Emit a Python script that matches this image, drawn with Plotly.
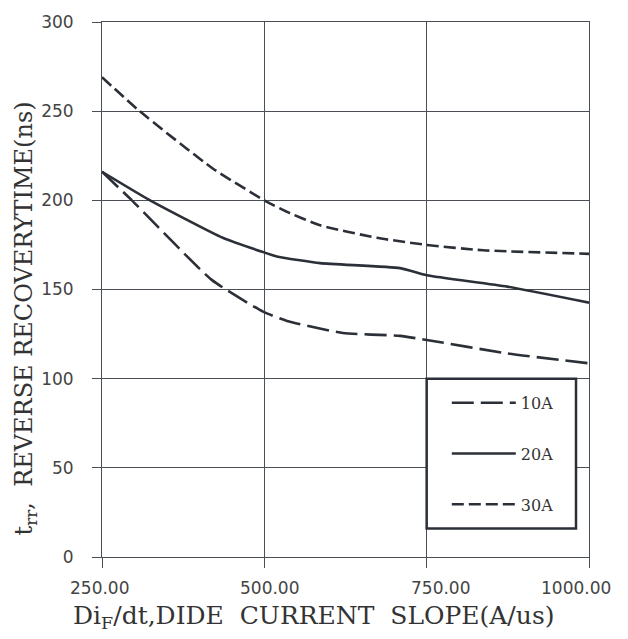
import plotly.graph_objects as go

# Data
x_10a = [250, 296, 419, 498, 535, 621, 709, 750, 874, 1000]
y_10a = [216, 200, 155.4, 137.6, 132.4, 125.6, 124, 121.7, 114.2, 108.6]
x_20a = [250, 324, 436, 498, 521, 586, 709, 750, 874, 1000]
y_20a = [216, 200, 179, 171, 168.4, 164.8, 162, 158, 151.6, 142.6]
x_30a = [250, 308, 420, 500, 535, 586, 673, 750, 837, 1000]
y_30a = [269, 250, 218, 200, 193.5, 186, 179, 175, 172, 170]
series_names = ["10A", "20A", "30A"]
x_ticks = [250, 500, 750, 1000]
x_tick_labels = ["250.00", "500.00", "750.00", "1000.00"]
y_ticks = [0, 50, 100, 150, 200, 250, 300]

LINE_COLOR = "#2b3038"
GRID_COLOR = "#4a4f55"
SERIF = "DejaVu Serif"
SANS = "DejaVu Sans"
NB = "\u00a0"

fig = go.Figure()
styles = [("22px,7px"), ("solid"), ("12px,5px")]
for name, xs, ys, dash in zip(series_names, [x_10a, x_20a, x_30a], [y_10a, y_20a, y_30a], styles):
    fig.add_trace(go.Scatter(
        x=xs, y=ys, mode="lines", name=name, legendgroup=name,
        line=dict(color=LINE_COLOR, width=2.6, dash=dash, shape="spline", smoothing=0.5),
    ))

# legend frame
fig.add_shape(type="rect", xref="x", yref="y", x0=750, x1=980, y0=16, y1=100,
              line=dict(color="#2b3038", width=2.5), fillcolor="white", layer="above")

# x tick labels drawn as annotations (the original labels sit slightly off their ticks)
label_shifts = [-3, 5, 14, -13]
tick_annotations = [
    dict(text=lbl, x=v, xref="x", y=-0.058, yref="paper", xanchor="center", yanchor="middle",
         xshift=sh, showarrow=False, font=dict(family=SANS, size=17, color="#444"))
    for v, lbl, sh in zip(x_ticks, x_tick_labels, label_shifts)
]

fig.update_layout(
    width=620, height=631,
    margin=dict(l=94, r=39, t=14, b=82),
    plot_bgcolor="white", paper_bgcolor="white",
    showlegend=True,
    legend=dict(
        x=0.708, y=0.32, xanchor="left", yanchor="top",
        bgcolor="rgba(0,0,0,0)", borderwidth=0,
        font=dict(family=SERIF, size=16, color="#333"),
        itemwidth=64, traceorder="grouped", tracegroupgap=27,
    ),
    xaxis=dict(
        range=[250, 1000], tickmode="array", tickvals=x_ticks, showticklabels=False,
        showgrid=True, gridcolor=GRID_COLOR, gridwidth=1, automargin=False,
        zeroline=False, showline=True, linecolor=GRID_COLOR, mirror=True,
        ticks="outside", ticklen=10, tickcolor=GRID_COLOR,
    ),
    yaxis=dict(
        range=[0, 300], tickmode="array", tickvals=y_ticks,
        showgrid=True, gridcolor=GRID_COLOR, gridwidth=1, automargin=False,
        zeroline=False, showline=True, linecolor=GRID_COLOR, mirror=True,
        ticks="outside", ticklen=9, tickcolor=GRID_COLOR,
        tickfont=dict(family=SANS, size=17, color="#444"),
        ticklabelstandoff=15,
    ),
    annotations=tick_annotations + [
        dict(text="Di<sub>F</sub>/dt,DIDE" + NB * 2 + "CURRENT" + NB * 2 + "SLOPE(A/us)",
             xref="paper", yref="paper", x=0.435, y=-0.112, xanchor="center", yanchor="middle",
             showarrow=False, font=dict(family=SERIF, size=25, color="#333")),
        dict(text="t<sub>rr</sub>," + NB * 2 + "REVERSE" + NB + "RECOVERYTIME(ns)",
             xref="paper", yref="paper", x=-0.158, y=0.446, xanchor="center", yanchor="middle",
             textangle=-90, showarrow=False, font=dict(family=SERIF, size=24, color="#333")),
    ],
)

fig.write_html("out.html")
